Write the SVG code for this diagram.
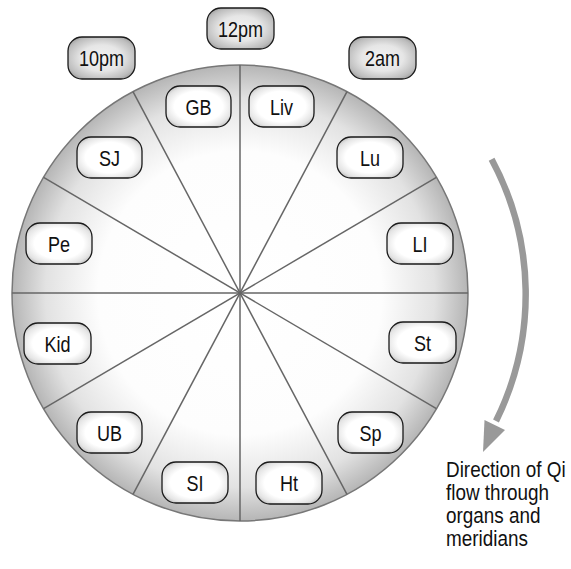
<svg xmlns="http://www.w3.org/2000/svg" width="571" height="569" viewBox="0 0 571 569">
<defs>
<radialGradient id="disc" cx="240" cy="293" r="229" gradientUnits="userSpaceOnUse">
<stop offset="0" stop-color="#ffffff"/>
<stop offset="0.62" stop-color="#fdfdfd"/>
<stop offset="0.85" stop-color="#e2e2e2"/>
<stop offset="1" stop-color="#b4b4b4"/>
</radialGradient>
<radialGradient id="org" cx="0.5" cy="0.5" r="0.62">
<stop offset="0" stop-color="#ffffff"/>
<stop offset="0.6" stop-color="#ffffff"/>
<stop offset="0.85" stop-color="#e4e4e4"/>
<stop offset="1" stop-color="#b8b8b8"/>
</radialGradient>
<radialGradient id="tim" cx="0.5" cy="0.5" r="0.62">
<stop offset="0" stop-color="#f2f2f2"/>
<stop offset="0.5" stop-color="#e6e6e6"/>
<stop offset="0.85" stop-color="#bdbdbd"/>
<stop offset="1" stop-color="#9a9a9a"/>
</radialGradient>
</defs>
<style>
.box{stroke:#1a1a1a;stroke-width:1.3}
.org{fill:url(#org)}
.tim{fill:url(#tim)}
.lbl{font-family:'Liberation Sans',Arial,sans-serif;font-size:22px;fill:#111;text-anchor:middle}
.note{font-family:'Liberation Sans',Arial,sans-serif;font-size:22px;fill:#111}
.spoke{stroke:#666;stroke-width:1.5}
</style>
<g id="wheel">
<circle cx="240" cy="293" r="228" fill="url(#disc)" stroke="#777" stroke-width="1.5"/>
</g>
<g id="connectors">
<line class="spoke" x1="240" y1="65" x2="240" y2="521"/>
<line class="spoke" x1="12" y1="293" x2="468" y2="293"/>
<line class="spoke" x1="133" y1="91.7" x2="347" y2="494.3"/>
<line class="spoke" x1="347" y1="91.7" x2="133" y2="494.3"/>
<line class="spoke" x1="43.6" y1="177.3" x2="436.4" y2="408.7"/>
<line class="spoke" x1="436.4" y1="177.3" x2="43.6" y2="408.7"/>
<path d="M 491.6 159.2 A 285 285 0 0 1 496 421" fill="none" stroke="#999" stroke-width="6.5"/>
<polygon points="483,452 484.5,420 505,430" fill="#999"/>
</g>
<g id="n-12pm"><rect class="box tim" x="207" y="8" width="67" height="41" rx="14"/><text class="lbl" transform="translate(240.5,36.5) scale(0.82,1)">12pm</text></g>
<g id="n-10pm"><rect class="box tim" x="68" y="37" width="67" height="42" rx="14"/><text class="lbl" transform="translate(101.5,66) scale(0.82,1)">10pm</text></g>
<g id="n-2am"><rect class="box tim" x="349" y="37" width="67" height="42" rx="14"/><text class="lbl" transform="translate(382.5,66) scale(0.82,1)">2am</text></g>
<g id="n-GB"><rect class="box org" x="166" y="86" width="65" height="41" rx="14"/><text class="lbl" transform="translate(198.5,114.5) scale(0.82,1)">GB</text></g>
<g id="n-Liv"><rect class="box org" x="249" y="86" width="65" height="41" rx="14"/><text class="lbl" transform="translate(281.5,114.5) scale(0.82,1)">Liv</text></g>
<g id="n-SJ"><rect class="box org" x="77" y="137" width="65" height="41" rx="14"/><text class="lbl" transform="translate(109.5,165.5) scale(0.82,1)">SJ</text></g>
<g id="n-Lu"><rect class="box org" x="337" y="137" width="66" height="41" rx="14"/><text class="lbl" transform="translate(370,165.5) scale(0.82,1)">Lu</text></g>
<g id="n-Pe"><rect class="box org" x="26" y="223" width="66" height="41" rx="14"/><text class="lbl" transform="translate(59,251.5) scale(0.82,1)">Pe</text></g>
<g id="n-LI"><rect class="box org" x="387" y="223" width="66" height="41" rx="14"/><text class="lbl" transform="translate(420,251.5) scale(0.82,1)">LI</text></g>
<g id="n-Kid"><rect class="box org" x="24" y="323" width="67" height="41" rx="14"/><text class="lbl" transform="translate(57.5,351.5) scale(0.82,1)">Kid</text></g>
<g id="n-St"><rect class="box org" x="389" y="322" width="67" height="41" rx="14"/><text class="lbl" transform="translate(422.5,350.5) scale(0.82,1)">St</text></g>
<g id="n-UB"><rect class="box org" x="77" y="412" width="65" height="41" rx="14"/><text class="lbl" transform="translate(109.5,440.5) scale(0.82,1)">UB</text></g>
<g id="n-Sp"><rect class="box org" x="338" y="412" width="65" height="41" rx="14"/><text class="lbl" transform="translate(370.5,440.5) scale(0.82,1)">Sp</text></g>
<g id="n-SI"><rect class="box org" x="162" y="462" width="66" height="41" rx="14"/><text class="lbl" transform="translate(195,490.5) scale(0.82,1)">SI</text></g>
<g id="n-Ht"><rect class="box org" x="256" y="462" width="66" height="42" rx="14"/><text class="lbl" transform="translate(289,491) scale(0.82,1)">Ht</text></g>
<g id="note">
<text class="note" transform="translate(446,477) scale(0.86,1)">Direction of Qi</text>
<text class="note" transform="translate(446,500) scale(0.86,1)">flow through</text>
<text class="note" transform="translate(446,523) scale(0.86,1)">organs and</text>
<text class="note" transform="translate(446,546) scale(0.86,1)">meridians</text>
</g>
</svg>
